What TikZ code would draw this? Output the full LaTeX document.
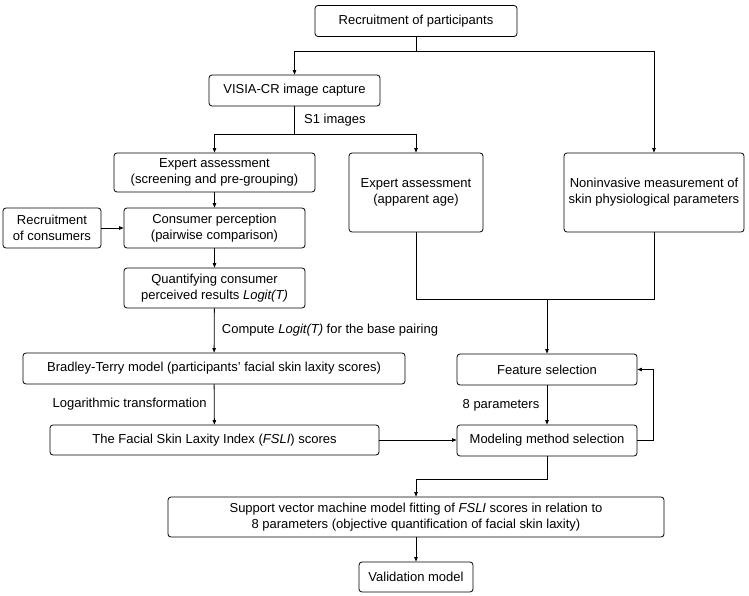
\documentclass[tikz,border=0pt]{standalone}
\usepackage{fontspec}
\setmainfont{Liberation Sans}
\usetikzlibrary{arrows.meta,positioning}

\begin{document}
\begin{tikzpicture}[
    x=1pt, y=-1pt,
    every node/.style={font=\fontsize{13}{16}\selectfont},
    box/.style={draw, rounded corners=3pt, align=center, inner sep=0pt, line width=0.8pt},
    arr/.style={-{Triangle[length=4.5pt,width=3.5pt]}, line width=0.8pt},
    line/.style={line width=0.8pt}
]

% Page frame
\useasboundingbox (0,0) rectangle (749,596);

% Boxes
\node[box, minimum width=202pt, minimum height=31pt] (recpart) at (416,21) {Recruitment of participants};
\node[box, minimum width=171pt, minimum height=31pt] (visia) at (294.5,90.5) {VISIA-CR image capture};
\node[box, minimum width=201pt, minimum height=39pt] (expscr) at (214.5,172.5) {Expert assessment\\(screening and pre-grouping)};
\node[box, minimum width=134pt, minimum height=79pt] (expage) at (416,192.5) {Expert assessment\\(apparent age)};
\node[box, minimum width=180pt, minimum height=79pt] (noninv) at (654,192.5) {Noninvasive measurement of\\skin physiological parameters};
\node[box, minimum width=98pt, minimum height=40pt] (reccon) at (52,228) {Recruitment\\of consumers};
\node[box, minimum width=181pt, minimum height=40pt] (conper) at (214.5,228) {Consumer perception\\(pairwise comparison)};
\node[box, minimum width=181pt, minimum height=40pt] (quant) at (214.5,288) {Quantifying consumer\\perceived results \textit{Logit(T)}};
\node[box, minimum width=382pt, minimum height=31pt] (btmodel) at (214,368.5) {Bradley-Terry model (participants' facial skin laxity scores)};
\node[box, minimum width=329pt, minimum height=30pt] (fsli) at (214.5,440) {The Facial Skin Laxity Index (\textit{FSLI}) scores};
\node[box, minimum width=180pt, minimum height=31pt] (featsel) at (547,369.5) {Feature selection};
\node[box, minimum width=180pt, minimum height=31pt] (modsel) at (547,440.5) {Modeling method selection};
\node[box, minimum width=496pt, minimum height=40pt] (svm) at (416,517) {Support vector machine model fitting of \textit{FSLI} scores in relation to\\8 parameters (objective quantification of facial skin laxity)};
\node[box, minimum width=114pt, minimum height=30pt] (valid) at (416,577) {Validation model};

% Split points
\coordinate (split1) at (416,51);
\coordinate (split2) at (294.5,134);
\coordinate (merge) at (547,299);
\coordinate (bend) at (547,479);

% Top branches
\draw[line] (recpart) -- (split1);
\draw[arr] (split1) -| (visia);
\draw[arr] (split1) -| (noninv);
\draw[line] (visia) -- node[right, xshift=6pt] {S1 images} (split2);
\draw[arr] (split2) -| (expscr);
\draw[arr] (split2) -| (expage);

% Left column
\draw[arr] (expscr) -- (conper);
\draw[arr] (reccon) -- (conper);
\draw[arr] (quant) -- node[right, xshift=4pt] {Compute \textit{Logit(T)} for the base pairing} (btmodel);
\draw[arr] (conper) -- (quant);
\draw[arr] (btmodel) -- node[left, xshift=-4pt] {Logarithmic transformation} (fsli);
\draw[arr] (fsli.east) -- (fsli.east -| modsel.west);

% Right column
\draw[line] (expage) |- (merge);
\draw[line] (noninv) |- (merge);
\draw[arr] (merge) -- (featsel);
\draw[arr] (featsel) -- node[left, xshift=-4pt] {8 parameters} (modsel);
\draw[arr] (modsel.east) -- ++(16,0) |- (featsel.east);

% Bottom
\draw[arr] (modsel) -- (bend) -| (svm);
\draw[arr] (svm) -- (valid);

\end{tikzpicture}
\end{document}
